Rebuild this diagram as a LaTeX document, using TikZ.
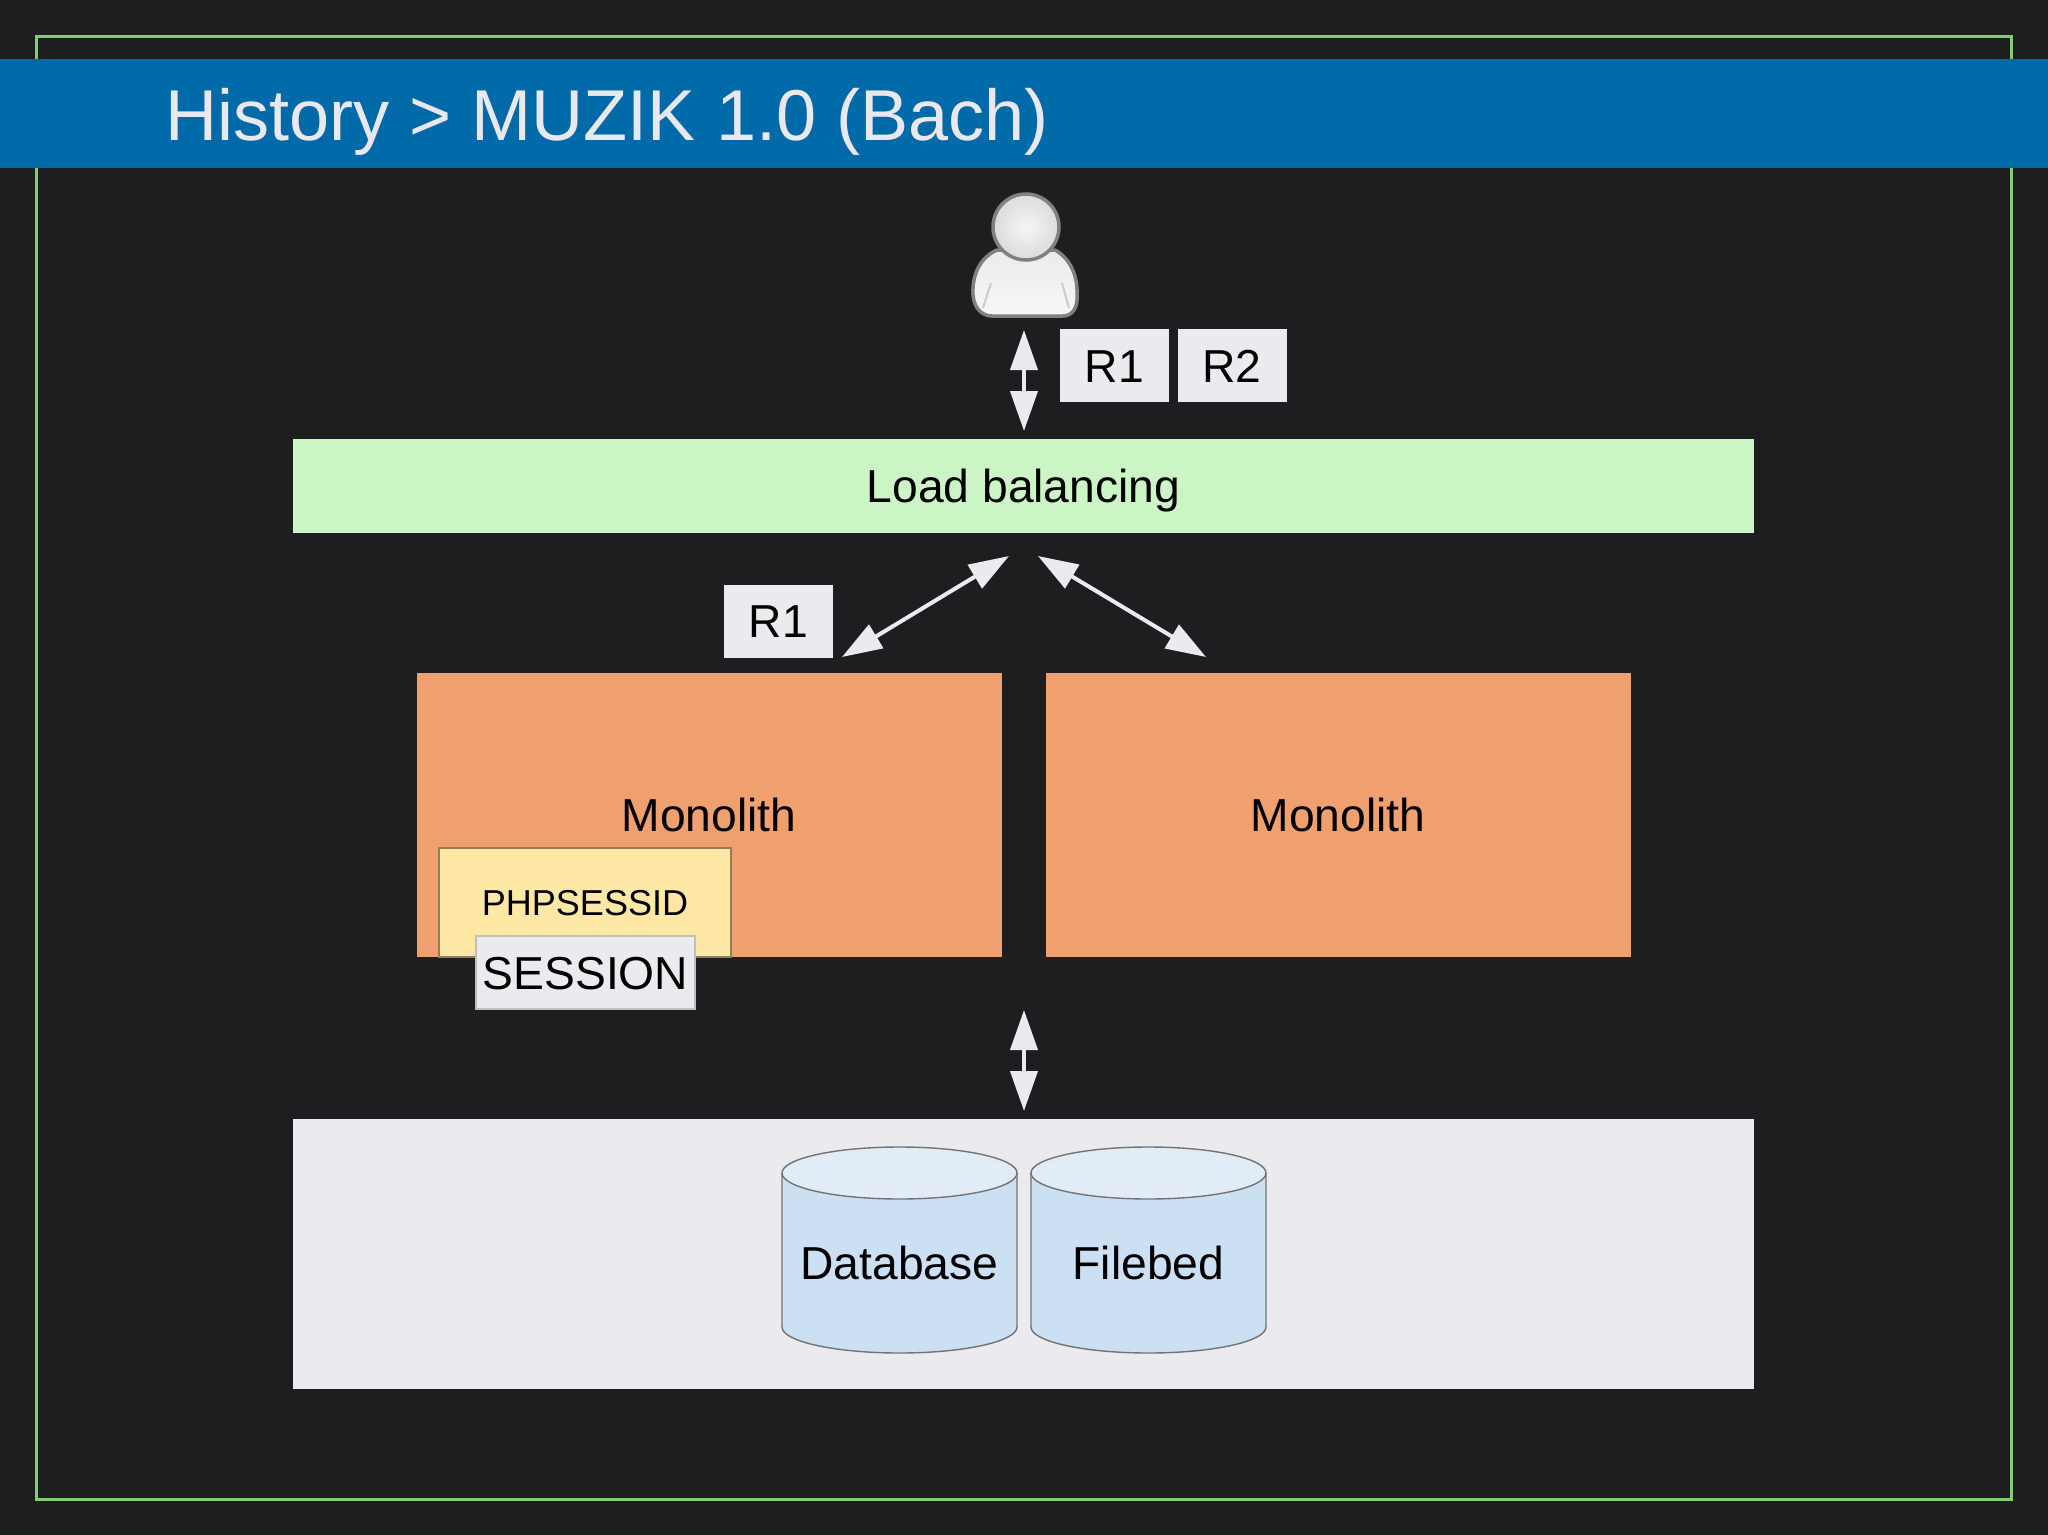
\documentclass[tikz,border=0pt]{standalone}
\usepackage{fontspec}
\setmainfont{Liberation Sans}
\usetikzlibrary{arrows.meta}
\definecolor{slidebg}{HTML}{1E1E20}
\definecolor{framegreen}{HTML}{7FD06C}
\definecolor{bandblue}{HTML}{0069A8}
\definecolor{paleText}{HTML}{E8E8EE}
\definecolor{lbgreen}{HTML}{CCF5C5}
\definecolor{monoorange}{HTML}{F09F6E}
\definecolor{sessyellow}{HTML}{FFE8A6}
\definecolor{reqgray}{HTML}{EBEBEF}
\definecolor{cylbody}{HTML}{CBE0F3}
\definecolor{cyltop}{HTML}{E2ECF6}
\tikzset{
    bigtext/.style={font=\fontsize{13.15}{15}\selectfont, text=black, text height=0.33cm, text depth=0pt, align=center},
    block/.style={bigtext, inner sep=0pt, fill=#1},
    reqbox/.style={block=reqgray, minimum width=1.09cm, minimum height=0.73cm},
    monobox/.style={block=monoorange, minimum width=5.85cm, minimum height=2.84cm},
    widebox/.style={block=#1, minimum width=14.61cm},
    storeline/.style={draw=black!55, line width=0.4pt},
    link/.style={<->, line width=0.04cm, draw=reqgray, >={Triangle[width=0.27cm,length=0.4cm]}}
}
\begin{document}
\begin{tikzpicture}[y=-1cm]
        \useasboundingbox (0,0) rectangle (20.48,15.35);
        \fill[slidebg] (0,0) rectangle (20.48,15.35);

        % Slide frame and title band
        \draw[framegreen, line width=0.03cm] (0.365,0.365) rectangle (20.11,14.99);
        \fill[bandblue] (0,0.585) rectangle (20.48,1.68);
        \node[anchor=base west, inner sep=0pt, text=paleText, font=\fontsize{20.5}{24}\selectfont] (title) at (1.65,1.40) {History > MUZIK 1.0 (Bach)};

        % User figure
        \draw[draw=black!50, line width=0.035cm, top color=black!8, bottom color=black!3]
            (9.97,2.50) .. controls (9.79,2.58) and (9.72,2.76) .. (9.73,2.95)
            .. controls (9.74,3.08) and (9.82,3.16) .. (9.92,3.16) -- (10.63,3.16)
            .. controls (10.72,3.16) and (10.78,3.08) .. (10.77,2.95)
            .. controls (10.78,2.76) and (10.70,2.58) .. (10.55,2.50) -- cycle;
        \draw[black!20, line width=0.02cm] (9.83,3.08) -- (9.91,2.83) (10.69,3.08) -- (10.62,2.83);
        \node[circle, draw=black!50, line width=0.035cm, inner color=black!4, outer color=black!14, minimum size=0.66cm, inner sep=0pt] (user) at (10.26,2.27) {};

        % Requests
        \node[reqbox] (topR1) at (11.145,3.655) {R1};
        \node[reqbox] (topR2) at (12.32,3.655) {R2};
        \coordinate (userEnd) at (10.24,3.30);
        \coordinate (lbTop) at (10.24,4.31);
        \draw[link] (userEnd) -- (lbTop);

        % Load balancer
        \node[widebox=lbgreen, minimum height=0.94cm] (lb) at (10.235,4.86) {Load balancing};

        \node[reqbox] (midR1) at (7.785,6.21) {R1};
        \coordinate (lbLeft) at (10.09,5.56);
        \coordinate (lbRight) at (10.38,5.56);
        \coordinate (monoLeftEnd) at (8.42,6.57);
        \coordinate (monoRightEnd) at (12.06,6.57);
        \draw[link] (monoLeftEnd) -- (lbLeft);
        \draw[link] (lbRight) -- (monoRightEnd);

        % Monoliths
        \node[monobox] (monoA) at (7.09,8.15) {Monolith};
        \node[monobox] (monoB) at (13.38,8.15) {Monolith};
        \node[draw=black!45!sessyellow, fill=sessyellow, line width=0.4pt, minimum width=2.92cm, minimum height=1.09cm, inner sep=0pt, text height=0.255cm, text depth=0pt, font=\fontsize{10.25}{12}\selectfont] (phpsess) at (5.85,9.025) {PHPSESSID};
        \node[block=reqgray, draw=black!25, line width=0.4pt, minimum width=2.19cm, minimum height=0.73cm] (session) at (5.855,9.725) {SESSION};

        \coordinate (monoBottom) at (10.24,10.10);
        \coordinate (storeTop) at (10.24,11.11);
        \draw[link] (monoBottom) -- (storeTop);

        % Storage
        \node[widebox=reqgray, minimum height=2.70cm] (storage) at (10.235,12.535) {};
        \foreach \name/\cx/\label in {database/8.995/Database, filebed/11.485/Filebed} {
            \fill[cylbody] (\cx-1.175,11.73) -- (\cx-1.175,13.27) arc[start angle=180, end angle=0, x radius=1.175, y radius=0.26] -- (\cx+1.175,11.73) -- cycle;
            \draw[storeline] (\cx-1.175,11.73) -- (\cx-1.175,13.27) arc[start angle=180, end angle=0, x radius=1.175, y radius=0.26] -- (\cx+1.175,11.73);
            \draw[storeline, fill=cyltop] (\cx,11.73) ellipse[x radius=1.175, y radius=0.26];
            \node[bigtext, inner sep=0pt] (\name) at (\cx,12.63) {\label};
        }
\end{tikzpicture}
\end{document}
